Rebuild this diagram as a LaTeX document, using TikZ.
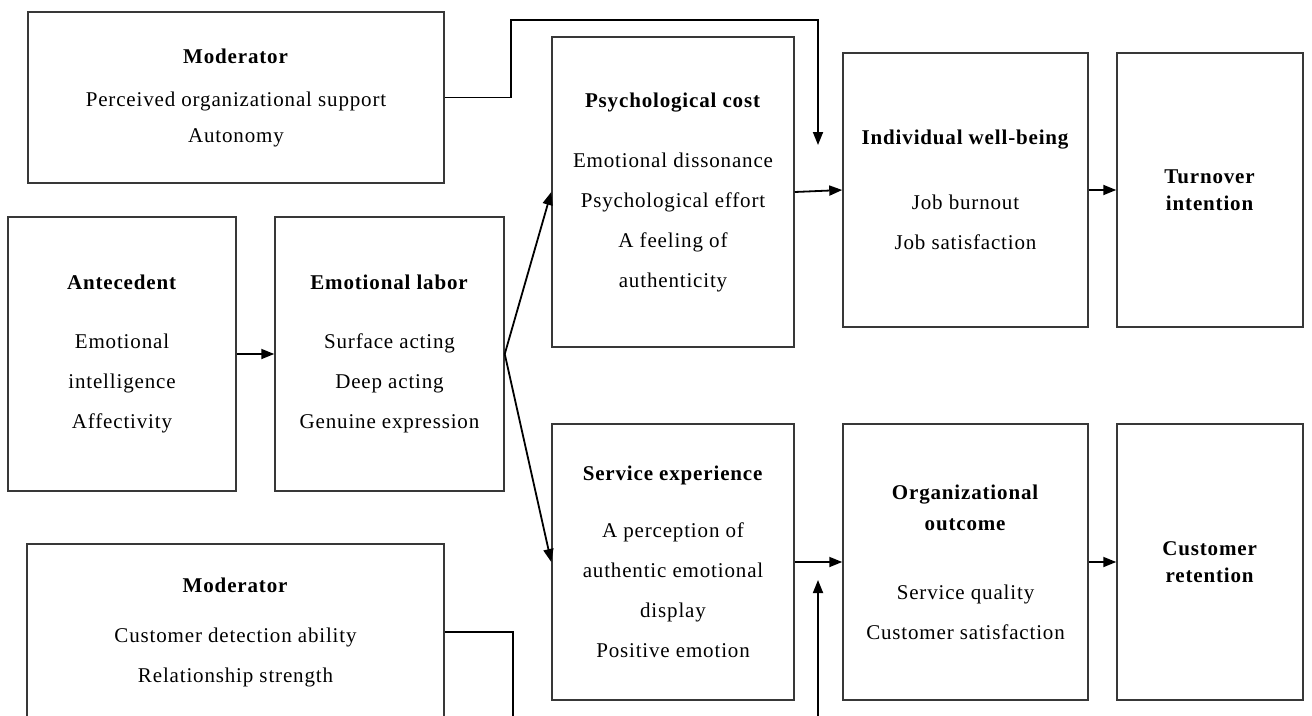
\documentclass[tikz,border=0pt]{standalone}
\usepackage{fontspec}
\setmainfont[LetterSpace=4]{Liberation Serif}
\usetikzlibrary{arrows.meta,positioning,calc}

\begin{document}
\begin{tikzpicture}[x=1pt,y=-1pt,
                    box/.style={draw=black!78,line width=1.5pt,align=center,inner sep=0pt,font=\fontsize{21}{40}\selectfont},
                    arrow/.style={-{Triangle[length=13pt,width=10pt]},line width=1.8pt}]

 \useasboundingbox (0,0) rectangle (1312,715);
 \clip (0,0) rectangle (1312,715);

 \node[box,minimum width=416,minimum height=171] (mod1) at (236,97.5) {\textbf{Moderator}\\[3pt] Perceived organizational support\\[-4pt] Autonomy};

 \node[box,minimum width=228,minimum height=274] (ante) at (122,354) {\textbf{Antecedent}\\[19pt] Emotional\\ intelligence\\ Affectivity};

 \node[box,minimum width=229,minimum height=274] (emo) at (389.5,354) {\textbf{Emotional labor}\\[19pt] Surface acting\\ Deep acting\\ Genuine expression};

 \node[box,minimum width=242,minimum height=310] (cost) at (673,192) {\textbf{Psychological cost}\\[20pt] Emotional dissonance\\ Psychological effort\\ A feeling of\\ authenticity};

 \node[box,minimum width=245,minimum height=274] (well) at (965.5,190) {\textbf{Individual well-being}\\[25pt] Job burnout\\ Job satisfaction};

 \node[box,minimum width=186,minimum height=274] (turn) at (1210,190) {\textbf{Turnover}\\[-13pt] \textbf{intention}};

 \node[box,minimum width=242,minimum height=276] (serv) at (673,562) {\textbf{Service experience}\\[17pt] A perception of\\ authentic emotional\\ display\\ Positive emotion};

 \node[box,minimum width=245,minimum height=276] (org) at (965.5,562) {\textbf{Organizational}\\[-9pt] \textbf{outcome}\\[29pt] Service quality\\ Customer satisfaction};

 \node[box,minimum width=186,minimum height=276] (cust) at (1210,562) {\textbf{Customer}\\[-13pt] \textbf{retention}};

 \node[box,minimum width=417,minimum height=176] (mod2) at (235.5,632) {\textbf{Moderator}\\[10pt] Customer detection ability\\ Relationship strength};

 \coordinate (tip1) at (818,145);
 \coordinate (bend1) at (818,20);
 \coordinate (bend2) at (513,740);
 \coordinate (tip2) at (818,580);

  \path[arrow]
    (ante) edge (emo)
    (emo.east) edge (cost.west)
    (emo.east) edge (serv.west)
    (cost.east) edge (well.west)
    (well) edge (turn)
    (serv) edge (org)
    (org) edge (cust);

  \draw[arrow] (mod1.east) -- ++(66,0) |- (bend1) -- (tip1);
  \draw[arrow] (mod2.east) -| (bend2) -| (tip2);

\end{tikzpicture}
\end{document}
